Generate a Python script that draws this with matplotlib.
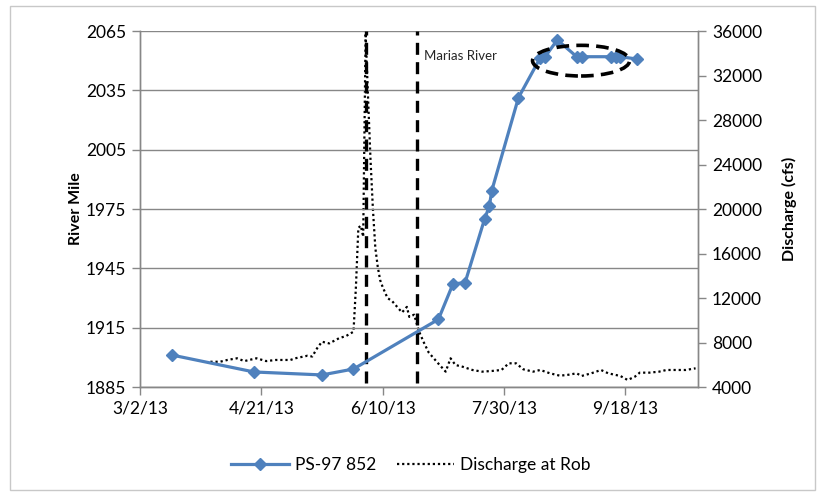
import numpy as np
import pandas as pd
import matplotlib
matplotlib.use("Agg")
import matplotlib.pyplot as plt
import matplotlib.dates as mdates
from matplotlib.patches import Ellipse, Rectangle

plt.rcParams['font.family'] = ['Lato', 'DejaVu Sans']

base_date = pd.Timestamp("2013-03-02")

# PS-97 852 fish locations (days since 3/2/13, river mile)
fish_days = [13, 47, 75, 88, 123, 129, 134, 142, 144, 145, 156, 165, 167, 172, 180, 182, 194, 196, 198, 205]
fish_rm = [1901.2, 1892.6, 1891.1, 1894.1, 1919.2, 1937.1, 1937.8, 1969.8, 1976.5, 1984.3,
           2031.3, 2051.5, 2052.0, 2060.5, 2052.0, 2052.0, 2052.0, 2052.0, 2052.0, 2050.8]

# Discharge at Robinson Bridge (days since 3/2/13, cfs)
q_days = [29, 33, 36, 40, 43, 48, 52, 56, 62, 64, 69, 71, 73, 75, 78, 82, 85, 88,
          89, 90, 91, 92, 93, 94, 95, 96, 97, 98, 99, 100, 102, 104, 106, 108, 110, 111,
          113, 115, 117, 119, 121, 123, 126, 128, 130, 133, 137, 141, 145, 149, 152, 155,
          158, 162, 165, 169, 173, 176, 180, 182, 186, 190, 193, 198, 201, 204, 206, 210,
          214, 217, 221, 225, 229]
q_cfs = [6270, 6270, 6430, 6580, 6330, 6580, 6330, 6430, 6430, 6580, 6810, 6740, 7480, 8070, 7920, 8380, 8590, 8970,
         13000, 18300, 18500, 17500, 35800, 30000, 24500, 20000, 16500, 14800, 13600, 13000, 12000, 11700, 11200, 10700, 11200, 10300,
         10500, 9000, 8000, 7100, 6600, 6100, 5380, 6580, 5980, 5820, 5530, 5380, 5440, 5530, 6130, 6130,
         5590, 5380, 5530, 5230, 5020, 5080, 5230, 4990, 5230, 5530, 5230, 4990, 4630, 4930, 5290, 5290,
         5380, 5530, 5530, 5530, 5680]

event_days = [93, 114]
x_ticklabels = ['3/2/13', '4/21/13', '6/10/13', '7/30/13', '9/18/13']
left_ticks = [1885, 1915, 1945, 1975, 2005, 2035, 2065]
right_ticks = [4000, 8000, 12000, 16000, 20000, 24000, 28000, 32000, 36000]

fish_dates = base_date + pd.to_timedelta(fish_days, unit='D')
q_dates = base_date + pd.to_timedelta(q_days, unit='D')
event_dates = base_date + pd.to_timedelta(event_days, unit='D')
tick_dates = pd.to_datetime(x_ticklabels, format='%m/%d/%y')

fig = plt.figure(figsize=(8.25, 4.95), dpi=100)
fig.patches.append(Rectangle((10/825, 1-490/495), 805/825, 484/495, transform=fig.transFigure,
                             fill=False, edgecolor='#C8C8C8', linewidth=1.0))

ax = fig.add_axes([140/825, 1-387/495, 558/825, 356/495])
ax2 = ax.twinx()

gray = '#878787'
fs = 12.5
ax.set_ylim(1885, 2065)
ax.set_yticks(left_ticks)
ax.yaxis.grid(True, color=gray, linewidth=1.0)
ax.set_axisbelow(True)
ax.set_xlim(base_date, base_date + pd.Timedelta(days=230))
ax.set_xticks(tick_dates)
ax.set_xticklabels(x_ticklabels)

ax2.set_ylim(4000, 36000)
ax2.set_yticks(right_ticks)

for a in (ax, ax2):
    a.spines['top'].set_visible(False)
    for s in ('left', 'right', 'bottom'):
        a.spines[s].set_color(gray)
        a.spines[s].set_linewidth(1.0)
    a.tick_params(axis='both', colors=gray, labelcolor='black', labelsize=fs, length=6, width=1.0,
                  direction='out', pad=4)

ax.set_ylabel('River Mile', fontsize=11.5, fontweight='bold', labelpad=2)
ax2.set_ylabel('Discharge (cfs)', fontsize=11.5, fontweight='bold', labelpad=14)

# discharge on secondary axis
l2, = ax2.plot(q_dates, q_cfs, color='black', linestyle=(0, (1, 1.3)), linewidth=1.6, label='Discharge at Rob', zorder=3)

# event lines
for d in event_dates:
    ax.axvline(d, ymin=0.01, ymax=1.0, color='black', linestyle=(0, (3.6, 2.2)), linewidth=2.4, zorder=4)

ax.set_zorder(ax2.get_zorder() + 1)
ax.patch.set_visible(False)

l1, = ax.plot(fish_dates, fish_rm, color='#4F81BD', linewidth=2.3, marker='D', markersize=6.5,
              markerfacecolor='#4F81BD', markeredgecolor='#4F81BD', label='PS-97 852', zorder=5)

ax.text(base_date + pd.Timedelta(days=117), 2052.5, 'Marias River', fontsize=9.5, color='#262626', va='center', ha='left')

ell_center = (mdates.date2num(base_date + pd.Timedelta(days=181.8)), 2050.0)
ax.add_patch(Ellipse(ell_center, width=40, height=15.5, fill=False, edgecolor='black',
                     linestyle=(0, (3.5, 2)), linewidth=2.6, zorder=6))

fig.legend(handles=[l1, l2], loc='center', bbox_to_anchor=(411/825, 1-465/495), ncol=2, frameon=False,
           fontsize=fs, handlelength=3.3, columnspacing=1.2, handletextpad=0.35)

fig.savefig('out.png', dpi=100)
